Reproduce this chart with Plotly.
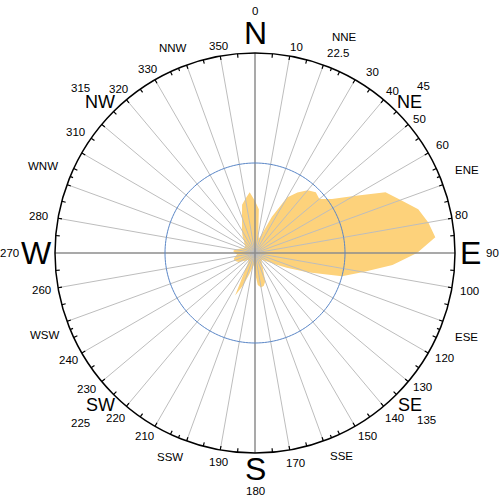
import math
import plotly.graph_objects as go

# ---- data ----
directions = list(range(0, 360, 5))
frequency = [26, 22, 9.5, 7.5, 10, 20, 32, 37, 41, 43, 42, 47,
             57, 72, 77.5, 84.5, 88, 90.5, 81, 69, 55, 45, 28, 17.5,
             11, 7.5, 6, 5, 5, 6, 7.5, 10, 15, 17, 17.5, 16,
             10, 6, 7.5, 11, 17, 23.5, 10, 6, 5, 5, 6, 7,
             9, 10, 11, 11, 10, 9, 10, 11, 10, 8, 7, 6,
             6, 6, 7, 7.5, 9, 11, 13, 15.4, 19, 25, 27.5, 30.5]
ref_circle_value = 45
radial_max = 100

cardinal_labels = ["N", "E", "S", "W"]
cardinal_deg = [0, 90, 180, 270]
intercardinal_labels = ["NE", "SE", "SW", "NW"]
intercardinal_deg = [45, 135, 225, 315]
minor_point_labels = ["NNE", "ENE", "ESE", "SSE", "SSW", "WSW", "WNW", "NNW"]
minor_point_deg = [22.5, 67.5, 112.5, 157.5, 202.5, 247.5, 292.5, 337.5]
degree_labels = ["0", "10", "22.5", "30", "40", "45", "50", "60", "80", "90", "100",
                 "120", "130", "135", "140", "150", "170", "180", "190", "210",
                 "220", "225", "230", "240", "260", "270", "280", "310", "315",
                 "320", "330", "350"]

# ---- label placement (radius as fraction of outer circle, compass angle) ----
R = radial_max
deg_pos = {
    "0": (1.21, 0), "10": (1.05, 11.3), "22.5": (1.083, 22.5), "30": (1.08, 33),
    "40": (1.064, 40.4), "45": (1.184, 45.2), "50": (1.063, 50.9), "60": (1.08, 60),
    "80": (1.05, 79.5), "90": (1.185, 90), "100": (1.087, 100), "120": (1.081, 119),
    "130": (1.074, 128.6), "135": (1.195, 134.3), "140": (1.079, 139.9),
    "150": (1.073, 148.5), "170": (1.069, 169.2), "180": (1.19, 180),
    "190": (1.061, 190), "210": (1.068, 211), "220": (1.079, 220.1),
    "225": (1.22, 225.7), "230": (1.081, 231), "240": (1.077, 240.2),
    "260": (1.082, 260.1), "270": (1.225, 270), "280": (1.10, 279.7),
    "310": (1.08, 304), "315": (1.202, 313.3), "320": (1.065, 320.3),
    "330": (1.067, 329.6), "350": (1.051, 349.9),
}
minor_pos = {"NNE": (1.17, 22.6), "ENE": (1.138, 68.6), "ESE": (1.14, 111.6),
             "SSE": (1.104, 156.8), "SSW": (1.105, 202.6), "WSW": (1.127, 248.7),
             "WNW": (1.146, 292.3), "NNW": (1.104, 338.2)}
inter_pos = {"NE": (1.078, 45.6), "SE": (1.085, 134.4), "SW": (1.085, 225.4),
             "NW": (1.082, 314.3)}
card_pos = {"N": (1.10, 0), "E": (1.075, 90), "S": (1.08, 180), "W": (1.09, 270)}

FONT = "Liberation Sans, Arial, sans-serif"
fig = go.Figure()

# filled rose
fig.add_trace(go.Scatterpolar(
    r=frequency + frequency[:1], theta=directions + directions[:1],
    mode="lines", fill="toself", fillcolor="#FDD27B",
    line=dict(width=0, color="#FDD27B"), hoverinfo="skip"))

# radial grid lines every 10 deg
gr, gt = [], []
for d in range(0, 360, 10):
    if d % 90 == 0:
        continue
    gr += [0, R, None]
    gt += [d, d, None]
fig.add_trace(go.Scatterpolar(r=gr, theta=gt, mode="lines",
                              line=dict(color="#bdbdbd", width=1), hoverinfo="skip"))
# main axes lines
mr, mt = [], []
for d in cardinal_deg:
    mr += [0, R, None]
    mt += [d, d, None]
fig.add_trace(go.Scatterpolar(r=mr, theta=mt, mode="lines",
                              line=dict(color="#8c8c8c", width=1.5), hoverinfo="skip"))

# reference circle
circ_t = list(range(0, 361, 2))
fig.add_trace(go.Scatterpolar(r=[ref_circle_value] * len(circ_t), theta=circ_t, mode="lines",
                              line=dict(color="#5a86c6", width=1), hoverinfo="skip"))

# tick marks
tr, tt = [], []
for d in range(0, 360, 5):
    if d % 90 == 0:
        continue
    tr += [0.98 * R, 1.022 * R, None]
    tt += [d, d, None]
for d in minor_point_deg:
    tr += [0.985 * R, 1.06 * R, None]
    tt += [d, d, None]
fig.add_trace(go.Scatterpolar(r=tr, theta=tt, mode="lines", cliponaxis=False,
                              line=dict(color="black", width=1.2), hoverinfo="skip"))

# labels as annotations (polar domain fills plot area: centre 0.5, radius 0.5)
annotations = []
def add_labels(labels, pos, size):
    for l in labels:
        rf, th = pos[l]
        a = math.radians(th)
        annotations.append(dict(
            x=0.5 + 0.5 * rf * math.sin(a), y=0.5 + 0.5 * rf * math.cos(a),
            xref="paper", yref="paper", text=l, showarrow=False,
            xanchor="center", yanchor="middle",
            font=dict(family=FONT, size=size, color="black")))

add_labels(degree_labels, deg_pos, 11.5)
add_labels(minor_point_labels, minor_pos, 11.5)
add_labels(intercardinal_labels, inter_pos, 18)
add_labels(cardinal_labels, card_pos, 32)

fig.update_layout(
    width=500, height=500,
    margin=dict(l=55, r=45, t=53, b=47),
    paper_bgcolor="white", plot_bgcolor="white",
    showlegend=False, hovermode=False,
    annotations=annotations,
    polar=dict(
        domain=dict(x=[0, 1], y=[0, 1]),
        bgcolor="white",
        radialaxis=dict(visible=False, range=[0, R]),
        angularaxis=dict(rotation=90, direction="clockwise", showgrid=False,
                         showticklabels=False, ticks="", showline=True,
                         linecolor="black", linewidth=1.5),
    ),
)
fig.write_html("out.html", config={"displayModeBar": False, "staticPlot": True},
               post_script="document.body.style.margin='0';document.body.style.overflow='hidden';")
